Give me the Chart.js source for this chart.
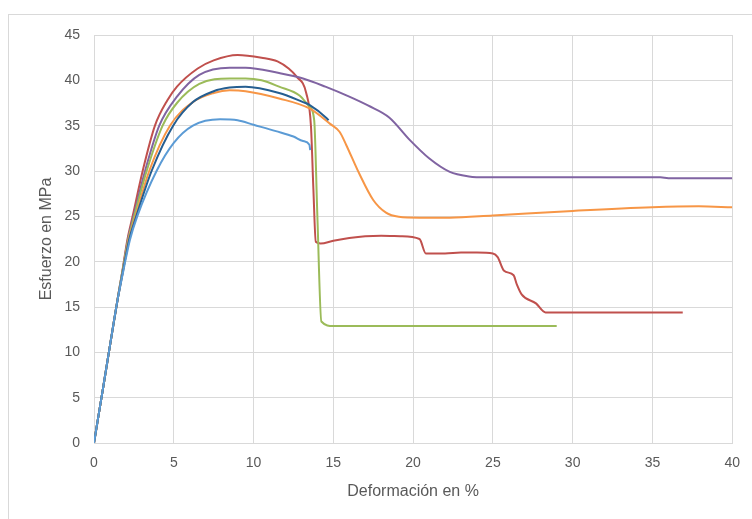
<!DOCTYPE html>
<html>
<head>
<meta charset="utf-8">
<script src="https://cdn.jsdelivr.net/npm/chart.js@4"></script>
<style>
  html,body{margin:0;padding:0;background:#fff;}
  #wrap{position:relative;width:752px;height:519px;overflow:hidden;}
  #frame{position:absolute;left:8px;top:14px;width:800px;height:600px;border:1px solid #d9d9d9;}
  #chart{position:absolute;left:0;top:0;}
</style>
</head>
<body>
<div id="wrap">
  <div id="frame"></div>
  <canvas id="chart" width="752" height="519"></canvas>
</div>
<script>
// ensayos de traccion: [deformacion %, esfuerzo MPa]
const curvaRoja = [[0,0],[0.6,6.4],[1.2,12.9],[1.5,16.1],[1.8,19.2],[2.09,22.4],[2.42,25],[3.05,30],[3.82,35],[4.6,37.8],[5.2,39.3],[6.5,41.3],[7.5,42.2],[9,42.8],[10.5,42.5],[11.5,42.1],[12.2,41.3],[12.7,40.4],[13.3,38.6],[13.6,34.9],[13.75,28],[13.9,22.2],[14.2,22],[15,22.3],[16,22.6],[17,22.8],[18,22.85],[19.2,22.8],[20.4,22.5],[20.8,20.9],[22,20.9],[23,21],[24,21],[25,20.9],[25.3,20.5],[25.7,19],[26.3,18.5],[26.5,17.5],[26.8,16.4],[27.7,15.4],[28.3,14.4],[36.9,14.4]];
const curvaMorada = [[0,0],[0.6,6.4],[1.2,12.9],[1.5,16.1],[1.8,19.1],[2.12,22.4],[2.48,25],[3.2,30],[4.09,35],[5.2,38.2],[6.6,40.6],[8.5,41.4],[9.5,41.4],[11.6,40.8],[13.1,40.2],[14.5,39.3],[16,38.2],[17.2,37.2],[18.5,35.9],[19.8,33.4],[21,31.4],[22.3,29.9],[23.5,29.4],[24.6,29.3],[30,29.3],[35.5,29.3],[36,29.2],[40,29.2]];
const curvaVerde = [[0,0],[0.6,6.4],[1.2,12.9],[1.5,16.1],[1.8,19.1],[2.14,22.4],[2.52,25],[3.3,30],[4.3,35],[5.2,37.5],[6.6,39.6],[8.5,40.2],[9.5,40.2],[10.5,40],[11.6,39.3],[12.9,38.3],[13.5,37.1],[13.8,35.6],[14,25],[14.25,13.4],[15,12.9],[29,12.9]];
const curvaAzulOscuro = [[0,0],[0.6,6.4],[1.2,12.9],[1.5,16],[1.82,19],[2.2,22.4],[2.65,25],[3.61,30],[4.96,35],[6.2,37.6],[7.5,38.8],[8.5,39.2],[9.5,39.3],[11.6,38.6],[13.1,37.6],[13.5,37.3],[14.6,35.8],[14.7,35.6]];
const curvaNaranja = [[0,0],[0.6,6.4],[1.2,12.9],[1.5,16],[1.82,19],[2.17,22.4],[2.6,25],[3.46,30],[4.76,35],[6.2,37.6],[7.5,38.6],[8.5,38.9],[9.5,38.8],[11.6,38],[13.5,36.9],[14.8,35.2],[15.4,34.3],[15.8,32.9],[16.6,29.8],[17.5,26.8],[18.3,25.4],[19.1,24.95],[20.4,24.85],[22.3,24.85],[25,25.1],[30,25.6],[35,26],[37.9,26.1],[40,26]];
const curvaAzulClaro = [[0,0],[0.6,6.4],[1.2,12.9],[1.5,16],[1.84,19],[2.25,22.4],[2.71,25],[3.92,30],[5,33.1],[6.2,35],[7.9,35.7],[9,35.6],[10,35.1],[11.4,34.4],[12.5,33.8],[13.1,33.3],[13.5,32.9],[13.55,32.3]];

const xTicks = [0,5,10,15,20,25,30,35,40];
const yTicks = [0,5,10,15,20,25,30,35,40,45];

const GRID = '#d9d9d9';
const TEXT = '#595959';

function serie(puntos, color){
  return {
    data: puntos.map(p=>({x:p[0], y:p[1]})),
    borderColor: color,
    borderWidth: 2,
    pointRadius: 0,
    showLine: true,
    fill: false,
    cubicInterpolationMode: 'monotone'
  };
}

new Chart(document.getElementById('chart'), {
  type: 'scatter',
  data: {
    datasets: [
      serie(curvaAzulClaro, '#5b9bd5'),
      serie(curvaAzulOscuro, '#255e91'),
      serie(curvaNaranja, '#f79646'),
      serie(curvaVerde, '#9bbb59'),
      serie(curvaMorada, '#8064a2'),
      serie(curvaRoja, '#c0504d')
    ]
  },
  options: {
    responsive: false,
    animation: false,
    layout: { padding: { top: 35, right: 19, left: 33, bottom: 14 } },
    plugins: { legend: { display: false }, tooltip: { enabled: false } },
    scales: {
      x: {
        type: 'linear', min: 0, max: 40,
        afterBuildTicks: s => { s.ticks = xTicks.map(v=>({value:v})); },
        afterFit: s => { s.height = 62; },
        grid: { color: GRID, lineWidth: 1, drawTicks: false },
        border: { color: GRID },
        ticks: { color: TEXT, font: { family: 'Liberation Sans', size: 14 }, padding: 12 },
        title: { display: true, text: 'Deformación en %', color: TEXT, font: { family: 'Liberation Sans', size: 16 }, padding: { top: 6 } }
      },
      y: {
        type: 'linear', min: 0, max: 45,
        afterBuildTicks: s => { s.ticks = yTicks.map(v=>({value:v})); },
        afterFit: s => { s.width = 61; },
        grid: { color: GRID, lineWidth: 1, drawTicks: false },
        border: { color: GRID },
        ticks: { color: TEXT, font: { family: 'Liberation Sans', size: 14 }, padding: 14 },
        title: { display: true, text: 'Esfuerzo en MPa', color: TEXT, font: { family: 'Liberation Sans', size: 16 } }
      }
    }
  }
});
</script>
</body>
</html>
